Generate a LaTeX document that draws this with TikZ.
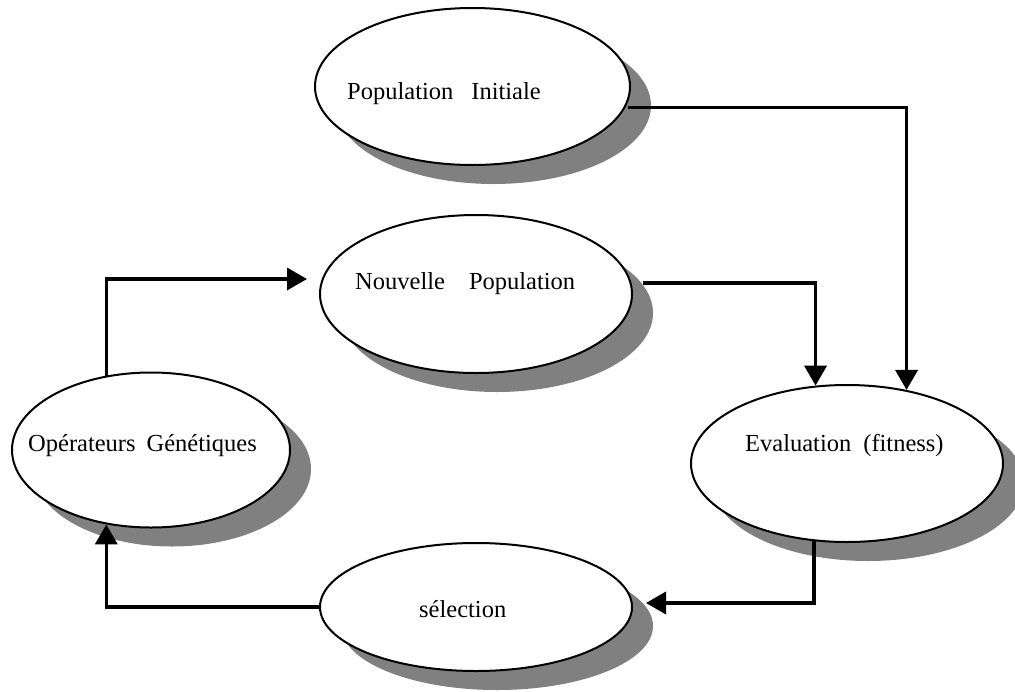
\documentclass[tikz,border=0pt]{standalone}
\usepackage{fontspec}
\setmainfont{Liberation Serif}
\usetikzlibrary{shapes.geometric,shadows,arrows.meta,calc}
\definecolor{shadowgray}{HTML}{808080}
\tikzset{
  bubble/.style={ellipse, draw=black, line width=2pt, fill=white, inner sep=0pt,
    drop shadow={shadow xshift=21pt, shadow yshift=-19pt, fill=shadowgray, opacity=1}},
  lbl/.style={anchor=base west, inner sep=0pt, font=\fontsize{24.5pt}{28pt}\selectfont},
  conn/.style={draw=black, line width=3.6pt, -{Triangle[length=20pt,width=22pt]}}
}
\begin{document}
\begin{tikzpicture}[x=1pt,y=-1pt]
\useasboundingbox (0,0) rectangle (1015,691);
% ellipses
\node[bubble, minimum width=315pt, minimum height=157pt] (pi) at (472.5,86.5) {};
\node[bubble, minimum width=312pt, minimum height=158pt] (np) at (476,294) {};
\node[bubble, minimum width=278pt, minimum height=155pt] (og) at (151,450) {};
\node[bubble, minimum width=312pt, minimum height=157pt] (ev) at (847,463.5) {};
\node[bubble, minimum width=312pt, minimum height=128pt] (se) at (476,607) {};
% labels
\node[lbl] (tpi) at (347,99) {Population\hspace{18pt}Initiale};
\node[lbl] (tnp) at (355,289) {Nouvelle\hspace{24pt}Population};
\node[lbl] (tog) at (28,451) {Opérateurs\hspace{11pt}Génétiques};
\node[lbl] (tev) at (745,451) {Evaluation\hspace{12pt}(fitness)};
\node[lbl] (tse) at (419,617) {sélection};
% connectors
\draw[conn] ($(pi.east)+(-3,21)$) -| (ev.51);
\draw[conn] ($(np.east)+(10,-11)$) -| (ev.112);
\draw[conn] (ev.-113) |- ($(se.east)+(13,-4)$);
\draw[conn] (se.west) -| (og.-121);
\draw[conn] (og.121) |- ($(np.west)+(-12,-15)$);
\end{tikzpicture}
\end{document}
